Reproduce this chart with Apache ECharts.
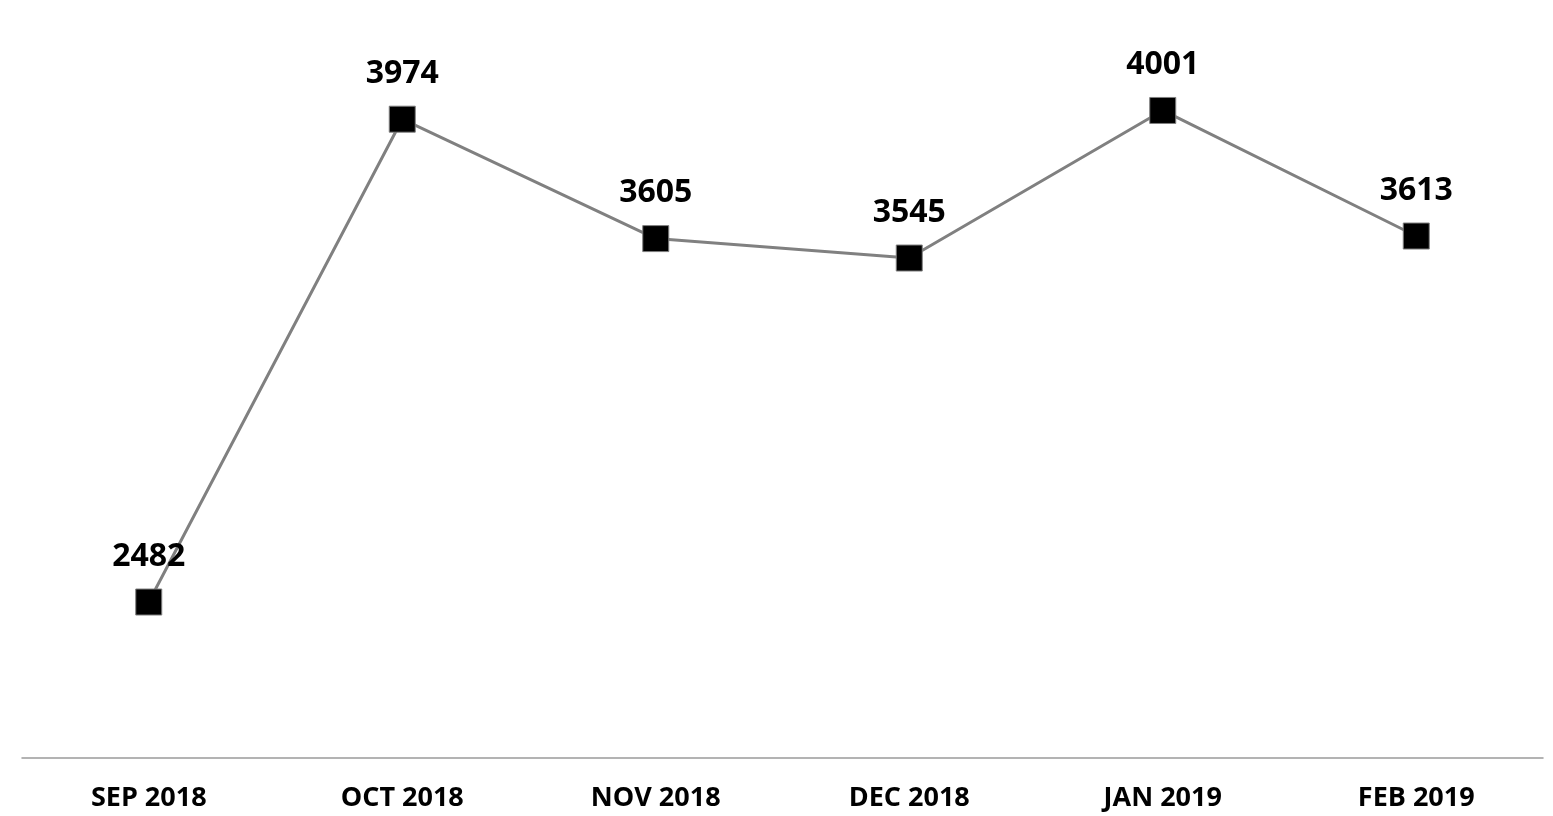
<!DOCTYPE html>
<html>
<head>
<meta charset="utf-8">
<script src="https://cdn.jsdelivr.net/npm/echarts@6/dist/echarts.min.js"></script>
<style>
  html, body { margin: 0; padding: 0; background: #ffffff; }
  #chart { width: 1553px; height: 816px; }
</style>
</head>
<body>
<div id="chart"></div>
<script>
// Monthly totals, Sep 2018 – Feb 2019
const months = ['SEP 2018', 'OCT 2018', 'NOV 2018', 'DEC 2018', 'JAN 2019', 'FEB 2019'];
const totals = [2482, 3974, 3605, 3545, 4001, 3613];

const chart = echarts.init(document.getElementById('chart'), null, { renderer: 'canvas' });

chart.setOption({
  animation: false,
  backgroundColor: '#ffffff',
  grid: { left: 22, right: 10, top: 13.7, bottom: 58, containLabel: false },
  xAxis: {
    type: 'category',
    data: months,
    boundaryGap: true,
    axisLine: { show: true, lineStyle: { color: '#9a9a9a', width: 1.5 } },
    axisTick: { show: false },
    axisLabel: {
      margin: 27,
      color: '#000000',
      fontFamily: 'Open Sans',
      fontWeight: 'bold',
      fontSize: 27
    },
    splitLine: { show: false }
  },
  yAxis: {
    type: 'value',
    min: 2000,
    max: 4300,
    show: false,
    splitLine: { show: false }
  },
  series: [{
    type: 'line',
    data: totals,
    symbol: 'rect',
    symbolSize: 26,
    lineStyle: { color: '#808080', width: 3 },
    itemStyle: { color: '#000000', borderColor: '#7f7f7f', borderWidth: 1 },
    label: {
      show: true,
      position: 'top',
      distance: 16,
      color: '#000000',
      fontFamily: 'Open Sans',
      fontWeight: 'bold',
      fontSize: 32
    },
    z: 2
  }]
});
</script>
</body>
</html>
